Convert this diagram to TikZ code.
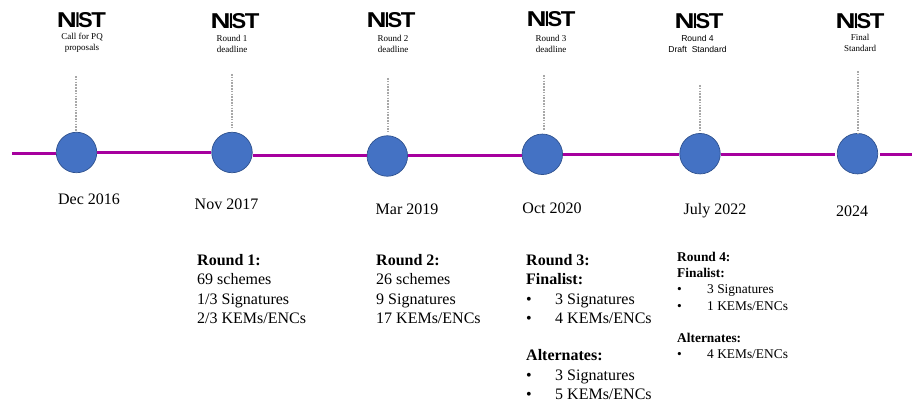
\documentclass[tikz,border=0pt]{standalone}
\usepackage{fontspec}
\setmainfont{Liberation Serif}
\newfontfamily\logofont{Liberation Sans}
\usepackage{graphicx}
\definecolor{linepurple}{HTML}{A6009E}
\definecolor{dotblue}{HTML}{4472C4}
\definecolor{dotedge}{HTML}{2F528F}
\definecolor{leadgray}{HTML}{A8A8A8}
\newcommand{\nistmark}{\resizebox{49pt}{15pt}{\logofont\bfseries\scalebox{1.45}[1]{N}\kern-0.07em\scalebox{0.75}[1]{I}\kern-0.08em\scalebox{1.15}[1]{S}\kern-0.07em\scalebox{1.25}[1]{T}}}
\newcommand{\itemline}[1]{\makebox[29pt][l]{\textbullet}#1}
\newcommand{\itemlineb}[1]{\makebox[30pt][l]{\textbullet}#1}
\tikzset{
  dot/.style={circle,draw=dotedge,line width=0.7pt,fill=dotblue,minimum size=40.5pt,inner sep=0pt},
  timeline/.style={draw=linepurple,line width=3pt},
  leader/.style={draw=leadgray,line width=2pt,dash pattern=on 1.6pt off 1.2pt},
  logo/.style={inner sep=0pt},
  small/.style={inner sep=0pt,align=center,font=\fontsize{9}{11.5}\selectfont},
  smallsans/.style={inner sep=0pt,align=center,font=\logofont\fontsize{8.6}{11.5}\selectfont},
  datelabel/.style={inner sep=0pt,anchor=base,font=\fontsize{16}{19}\selectfont},
  block/.style={inner sep=0pt,anchor=north west,align=left,font=\fontsize{16}{19.4}\selectfont},
  blocksmall/.style={inner sep=0pt,anchor=north west,align=left,font=\fontsize{13.4}{16.2}\selectfont}
}
\begin{document}
\begin{tikzpicture}[x=1pt,y=-1pt]
\useasboundingbox (0,0) rectangle (912,403);
% milestones
\node[dot] (c1) at (76.5,152.5) {};
\node[dot] (c2) at (232,152.5) {};
\node[dot] (c3) at (387.3,156) {};
\node[dot] (c4) at (542.3,154.3) {};
\node[dot] (c5) at (700,153.7) {};
\node[dot] (c6) at (857.5,153.7) {};
\coordinate (start) at (12,153.5);
\coordinate (finish) at (912,155);
\coordinate (y1) at (0,152.5);
\coordinate (y2) at (0,156);
\coordinate (y3) at (0,155);
% timeline
\draw[timeline] (start) -- (c1.west |- start);
\draw[timeline] (c1.east |- y1) -- (c2.west |- y1);
\draw[timeline] (c2.east |- y2) -- (c3.west |- y2);
\draw[timeline] (c3.east |- y2) -- (c4.west |- y2);
\draw[timeline] (c4.east |- y3) -- (c5.west |- y3);
\draw[timeline] (c5.east |- y3) -- ([xshift=-2pt]c6.west |- y3);
\draw[timeline] ([xshift=2pt]c6.east |- y3) -- (finish);
% logos
\node[logo] (n1) at (81.5,20) {\nistmark};
\node[logo] (n2) at (235,21) {\nistmark};
\node[logo] (n3) at (391,20.5) {\nistmark};
\node[logo] (n4) at (551,19) {\nistmark};
\node[logo] (n5) at (699,21) {\nistmark};
\node[logo] (n6) at (860,21) {\nistmark};
% captions
\node[small] (t1) at (82,43) {Call for PQ\\proposals};
\node[small] (t2) at (232,44) {Round 1\\deadline};
\node[small] (t3) at (393,44) {Round 2\\deadline};
\node[small] (t4) at (551,44) {Round 3\\deadline};
\node[smallsans] (t5) at (697.5,44) {Round 4\\Draft\ \ Standard};
\node[small] (t6) at (860,43) {Final\\Standard};
% leaders
\coordinate (l1) at (76.3,76);
\coordinate (l2) at (232,74);
\coordinate (l3) at (388,78);
\coordinate (l4) at (544,75);
\coordinate (l5) at (700,85);
\coordinate (l6) at (858,71);
\draw[leader] (l1) -- (l1 |- c1.north);
\draw[leader] (l2) -- ([yshift=4pt]l2 |- c2.north);
\draw[leader] (l3) -- ([yshift=3pt]l3 |- c3.north);
\draw[leader] (l4) -- ([yshift=4pt]l4 |- c4.north);
\draw[leader] (l5) -- ([yshift=1pt]l5 |- c5.north);
\draw[leader] (l6) -- (l6 |- c6.north);
% dates
\node[datelabel] (d1) at (89,205) {Dec 2016};
\node[datelabel] (d2) at (226.5,210) {Nov 2017};
\node[datelabel] (d3) at (407,214.5) {Mar 2019};
\node[datelabel] (d4) at (552,213.5) {Oct 2020};
\node[datelabel] (d5) at (715,215) {July 2022};
\node[datelabel] (d6) at (852,217) {2024};
% detail blocks
\node[block] (b1) at (197,254) {\textbf{Round 1:}\\69 schemes\\1/3 Signatures\\2/3 KEMs/ENCs};
\node[block] (b2) at (376,254) {\textbf{Round 2:}\\26 schemes\\9 Signatures\\17 KEMs/ENCs};
\node[block] (b3) at (526,254) {\textbf{Round 3:}\\\textbf{Finalist:}\\\itemline{3 Signatures}\\\itemline{4 KEMs/ENCs}\\[18pt]\textbf{Alternates:}\\\itemline{3 Signatures}\\\itemline{5 KEMs/ENCs}};
\node[blocksmall] (b4) at (677,252) {\textbf{Round 4:}\\\textbf{Finalist:}\\\itemlineb{3 Signatures}\\\itemlineb{1 KEMs/ENCs}\\[16pt]\textbf{Alternates:}\\\itemlineb{4 KEMs/ENCs}};
\end{tikzpicture}
\end{document}
